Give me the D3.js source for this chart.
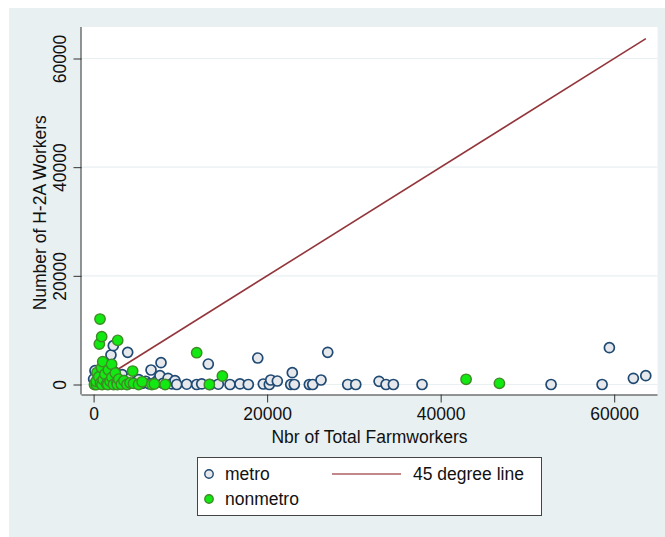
<!DOCTYPE html>
<html lang="en">
<head>
    <meta charset="utf-8">
    <title>H-2A vs farmworkers</title>
    <script src="https://d3js.org/d3.v7.min.js"></script>
    <style type="text/css">
        body { margin: 0; background: #fff; }
        text { font-family: "Liberation Sans", Arial, sans-serif; fill: #111; }
    </style>
</head>
<body>
<script type="text/javascript">

    // metro counties: total farmworkers, H-2A workers
    var metroX = [0, 160, 200, 500, 800, 1200, 1500, 1800, 2000, 2100, 2270, 2400, 2700, 3000, 3300, 3600, 3930,
        4000, 4300, 4800, 5200, 5600, 6000, 6400, 6620, 7000, 7400, 7650, 7770, 8000, 8580, 9000, 9380,
        9580, 10730, 11880, 12460, 13220, 13420, 14375, 15720, 16870, 17830, 18920, 19560, 20250, 20415,
        21175, 22720, 22900, 23135, 24865, 25255, 26210, 26985, 29290, 30215, 32900, 33705, 34550, 37855,
        52725, 58605, 59445, 62210, 63640];
    var metroY = [1010, 2540, 300, 1200, 2000, 600, 2900, 1500, 5430, 300, 7140, 2300, 1000, 200, 1800, 700, 5920,
        100, 1300, 400, 900, 200, 600, 100, 2670, 300, 800, 1620, 4010, 200, 1140, 100, 700,
        0, 50, 0, 100, 3770, 0, 50, 0, 100, 0, 4875, 90, 0, 830,
        640, 0, 2170, 0, 0, 0, 830, 5925, 0, 0, 590, 0, 0, 0,
        0, 0, 6770, 1140, 1620];

    // nonmetro counties
    var nonmetroX = [100, 320, 300, 400, 600, 660, 740, 800, 900, 930, 970, 1050, 1100, 1300, 1500, 1640, 1700,
        1900, 2080, 2100, 2300, 2500, 2700, 2740, 2780, 2900, 3200, 3500, 3850, 4200, 4500, 4600, 5180,
        5600, 6710, 7000, 8250, 11880, 13340, 14840, 42930, 46770];
    var nonmetroY = [0, 0, 600, 2200, 1400, 7450, 12050, 300, 3100, 8800, 0, 4200, 900, 1900, 100, 0, 2700,
        600, 3720, 1300, 0, 2100, 400, 0, 8130, 1000, 50, 700, 0, 300, 2480, 200, 0,
        500, 0, 100, 0, 5850, 0, 1560, 960, 220];

    var lineEnds = [0, 63650];
    var tickValues = [0, 20000, 40000, 60000];

    var w = 665, h = 537;
    var fs = "17.5px";

    var svg = d3.select("body").append("svg")
        .attr("width", w)
        .attr("height", h);

    // outer graph region
    svg.append("rect")
        .attr("x", 9).attr("y", 8)
        .attr("width", w - 9).attr("height", h - 8)
        .attr("fill", "#e8f0f2");

    var plotL = 81.5, plotR = 657.5, plotT = 27, plotB = 394.5;

    svg.append("rect")
        .attr("x", plotL).attr("y", plotT)
        .attr("width", plotR - plotL).attr("height", plotB - plotT)
        .attr("fill", "#ffffff");

    var x = d3.scaleLinear().domain([0, 60000]).range([93.6, 614.2]);
    var y = d3.scaleLinear().domain([0, 60000]).range([384.5, 58.5]);

    // gridlines
    svg.selectAll("line.grid")
        .data(tickValues)
        .enter()
        .append("line")
        .attr("class", "grid")
        .attr("x1", plotL).attr("x2", plotR)
        .attr("y1", function(d) { return y(d); })
        .attr("y2", function(d) { return y(d); })
        .attr("stroke", "#e8f0f2")
        .attr("stroke-width", 1.2);

    //Axes
    var xAxis = d3.axisBottom(x).tickValues(tickValues).tickSize(8).tickPadding(5)
        .tickFormat(d3.format("d"));
    var yAxis = d3.axisLeft(y).tickValues(tickValues).tickSize(8).tickPadding(6)
        .tickFormat(d3.format("d"));

    var gx = svg.append("g")
        .attr("transform", "translate(0," + plotB + ")")
        .call(xAxis);
    gx.select(".domain").attr("d", "M" + plotL + ",0.5H" + plotR);

    var gy = svg.append("g")
        .attr("transform", "translate(" + plotL + ",0)")
        .call(yAxis);
    gy.select(".domain").attr("d", "M-0.5," + plotT + "V" + plotB);

    [gx, gy].forEach(function(g) {
        g.selectAll(".domain, .tick line").attr("stroke", "#333").attr("stroke-width", 1);
        g.selectAll("text")
            .style("font-family", "'Liberation Sans', Arial, sans-serif")
            .style("font-size", fs)
            .attr("fill", "#111");
    });

    // rotate y tick labels like Stata
    gy.selectAll(".tick text")
        .attr("x", null).attr("dy", null)
        .attr("text-anchor", "middle")
        .attr("transform", "translate(-16,0) rotate(-90)");

    // axis titles
    svg.append("text")
        .attr("x", (plotL + plotR) / 2).attr("y", 443)
        .attr("text-anchor", "middle")
        .style("font-size", fs)
        .text("Nbr of Total Farmworkers");

    svg.append("text")
        .attr("transform", "translate(46," + ((plotT + plotB) / 2 + 2) + ") rotate(-90)")
        .attr("text-anchor", "middle")
        .style("font-size", fs)
        .text("Number of H-2A Workers");

    var metro = metroX.map(function(v, i) { return { x: v, y: metroY[i] }; });
    var nonmetro = nonmetroX.map(function(v, i) { return { x: v, y: nonmetroY[i] }; });

    // metro first, then line, then nonmetro
    svg.append("g").selectAll("circle")
        .data(metro)
        .enter()
        .append("circle")
        .attr("cx", function(d) { return x(d.x); })
        .attr("cy", function(d) { return y(d.y); })
        .attr("r", 5)
        .attr("fill", "#e6e8ec")
        .attr("stroke", "#1f4a73")
        .attr("stroke-width", 1.7);

    svg.append("line")
        .attr("x1", x(lineEnds[0])).attr("y1", y(lineEnds[0]))
        .attr("x2", x(lineEnds[1])).attr("y2", y(lineEnds[1]))
        .attr("stroke", "#93363c")
        .attr("stroke-width", 1.6);

    svg.append("g").selectAll("circle")
        .data(nonmetro)
        .enter()
        .append("circle")
        .attr("cx", function(d) { return x(d.x); })
        .attr("cy", function(d) { return y(d.y); })
        .attr("r", 5.2)
        .attr("fill", "#12e812")
        .attr("stroke", "#3f8a26")
        .attr("stroke-width", 1.4);

    //Legend
    var lg = svg.append("g");
    lg.append("rect")
        .attr("x", 197.5).attr("y", 457.5)
        .attr("width", 344).attr("height", 58)
        .attr("fill", "#fff")
        .attr("stroke", "#444")
        .attr("stroke-width", 1);

    lg.append("circle")
        .attr("cx", 209).attr("cy", 474).attr("r", 4.2)
        .attr("fill", "#e6e8ec").attr("stroke", "#1f4a73").attr("stroke-width", 1.4);
    lg.append("text").attr("x", 225).attr("y", 480).style("font-size", fs).text("metro");

    lg.append("line")
        .attr("x1", 332).attr("x2", 401).attr("y1", 474).attr("y2", 474)
        .attr("stroke", "#ad5f62").attr("stroke-width", 1.6);
    lg.append("text").attr("x", 413).attr("y", 480).style("font-size", fs).text("45 degree line");

    lg.append("circle")
        .attr("cx", 209).attr("cy", 499).attr("r", 4.2)
        .attr("fill", "#12e812").attr("stroke", "#3f8a26").attr("stroke-width", 1.4);
    lg.append("text").attr("x", 225).attr("y", 505).style("font-size", fs).text("nonmetro");

</script>
</body>
</html>
